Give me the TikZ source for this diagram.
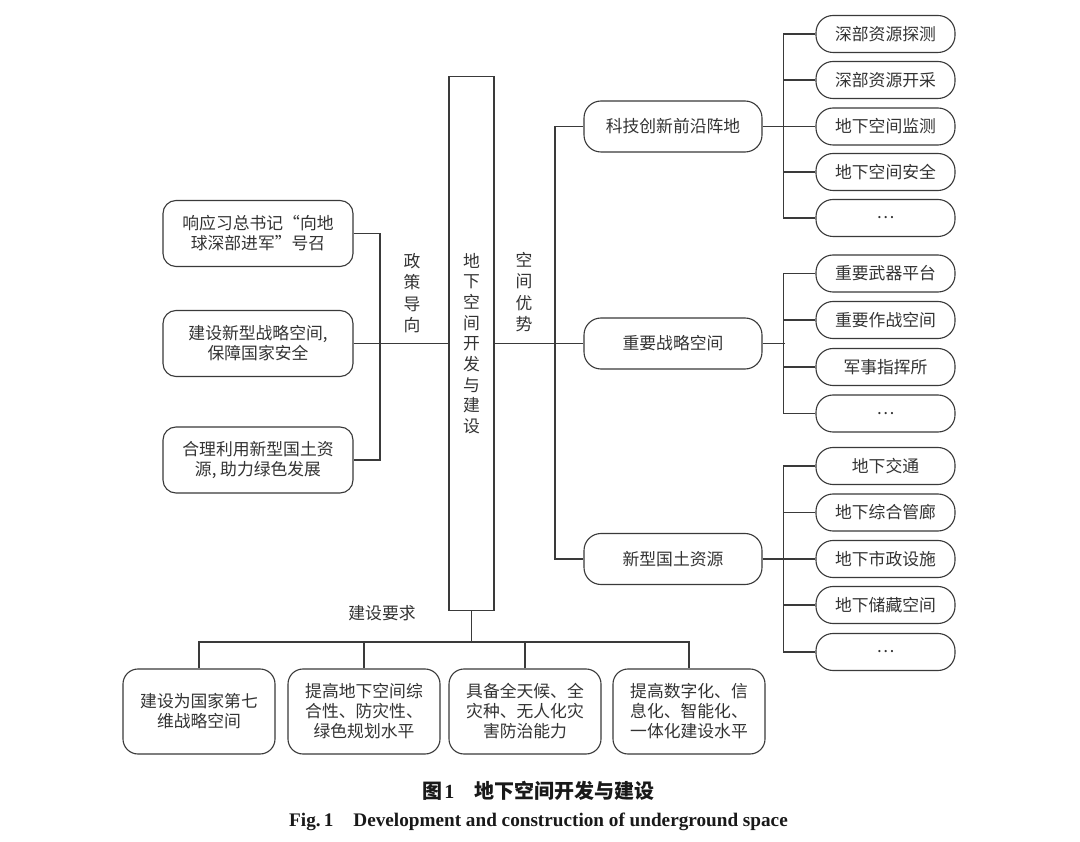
\documentclass[tikz,border=0pt]{standalone}
\usepackage{fontspec}
\setmainfont{Liberation Serif}
\newfontfamily\cjk{Noto Sans CJK SC}
\definecolor{ink}{HTML}{3A3A3A}
\definecolor{txt}{HTML}{333333}
\tikzset{
  ln/.style={draw=ink, line width=1.1pt},
  base/.style={draw=ink, line width=1.1pt, align=center, inner sep=0pt, text=txt,
     font=\fontsize{16.8}{20}\selectfont\cjk},
  lbox/.style={base, rounded corners=13pt, minimum width=190pt, minimum height=66pt},
  mbox/.style={base, rounded corners=17pt, minimum width=178pt, minimum height=51pt},
  leaf/.style={base, rounded corners=17pt, minimum width=139pt, minimum height=37pt},
  bbox/.style={base, rounded corners=15pt, minimum width=152pt, minimum height=85pt},
  cbox/.style={base, minimum width=45pt, minimum height=534pt, font=\fontsize{16.8}{20.7}\selectfont\cjk},
  vlab/.style={align=center, inner sep=0pt, text=txt, font=\fontsize{16.8}{21.5}\selectfont\cjk},
  lab/.style={inner sep=0pt, text=txt, font=\fontsize{16.8}{20}\selectfont\cjk}
}
\begin{document}
\begin{tikzpicture}[x=1pt,y=-1pt]
\useasboundingbox[fill=white] (0,0) rectangle (1080,842);
% centre
\node[cbox] (cen) at (471.5,343.5) {地\\下\\空\\间\\开\\发\\与\\建\\设};
\node[vlab] (zc) at (412,293) {政\\策\\导\\向};
\node[vlab] (ky) at (524,292) {空\\间\\优\\势};
% left
\node[lbox] (L1) at (258,233.5) {响应习总书记“向地\\球深部进军”号召};
\node[lbox] (L2) at (258,343.5) {建设新型战略空间,\\保障国家安全};
\node[lbox] (L3) at (258,460) {合理利用新型国土资\\源, 助力绿色发展};
\coordinate (lbt) at (380,233.5);
\coordinate (lbb) at (380,460);
\draw[ln] (L1.east) -- (lbt) -- (lbb) -- (L3.east);
\draw[ln] (L2.east) -- (cen.west);
% right middle
\node[mbox] (M1) at (673,126.5) {科技创新前沿阵地};
\node[mbox] (M2) at (673,343.5) {重要战略空间};
\node[mbox] (M3) at (673,559) {新型国土资源};
\coordinate (rbt) at (555,126.5);
\coordinate (rbb) at (555,559);
\draw[ln] (M1.west) -- (rbt) -- (rbb) -- (M3.west);
\draw[ln] (cen.east) -- (M2.west);
% leaves group 1
\node[leaf] (A1) at (885.5,34) {深部资源探测};
\node[leaf] (A2) at (885.5,80) {深部资源开采};
\node[leaf] (A3) at (885.5,126.5) {地下空间监测};
\node[leaf] (A4) at (885.5,172) {地下空间安全};
\node[leaf] (A5) at (885.5,218) {…};
\draw[ln] (M1.east) -- (A3.west);
\draw[ln] ([xshift=-32pt]A1.west) -- ([xshift=-32pt]A5.west);
\foreach \n in {A1,A2,A4,A5} \draw[ln] (\n.west) -- ++(-32,0);
% leaves group 2
\node[leaf] (B1) at (885.5,273.5) {重要武器平台};
\node[leaf] (B2) at (885.5,320) {重要作战空间};
\node[leaf] (B3) at (885.5,367) {军事指挥所};
\node[leaf] (B4) at (885.5,413.5) {…};
\draw[ln] (M2.east) -- ++(22,0);
\draw[ln] ([xshift=-32pt]B1.west) -- ([xshift=-32pt]B4.west);
\foreach \n in {B1,B2,B3,B4} \draw[ln] (\n.west) -- ++(-32,0);
% leaves group 3
\node[leaf] (C1) at (885.5,466) {地下交通};
\node[leaf] (C2) at (885.5,512.5) {地下综合管廊};
\node[leaf] (C3) at (885.5,559) {地下市政设施};
\node[leaf] (C4) at (885.5,605) {地下储藏空间};
\node[leaf] (C5) at (885.5,652) {…};
\draw[ln] (M3.east) -- (C3.west);
\draw[ln] ([xshift=-32pt]C1.west) -- ([xshift=-32pt]C5.west);
\foreach \n in {C1,C2,C4,C5} \draw[ln] (\n.west) -- ++(-32,0);
% bottom
\node[lab] (req) at (382,613) {建设要求};
\node[bbox] (D1) at (199,711.5) {建设为国家第七\\维战略空间};
\node[bbox] (D2) at (364,711.5) {提高地下空间综\\合性、防灾性、\\绿色规划水平};
\node[bbox] (D3) at (525,711.5) {具备全天候、全\\灾种、无人化灾\\害防治能力};
\node[bbox] (D4) at (689,711.5) {提高数字化、信\\息化、智能化、\\一体化建设水平};
\coordinate (bj) at (471.5,642);
\draw[ln] (cen.south) -- (bj);
\draw[ln] (D1.north) -- (D1.north |- bj) -- (D4.north |- bj) -- (D4.north);
\draw[ln] (D2.north) -- (D2.north |- bj);
\draw[ln] (D3.north) -- (D3.north |- bj);
% captions
\node[inner sep=0pt, text=black!90] (cap1) at (538.5,791)
  {{\fontsize{20}{22}\selectfont\cjk\bfseries 图}\,{\fontsize{20}{22}\selectfont\bfseries 1}\hspace{20pt}{\fontsize{20}{22}\selectfont\cjk\bfseries 地下空间开发与建设}};
\node[inner sep=0pt, text=black!90, font=\fontsize{19.2}{22}\selectfont\bfseries] (cap2) at (538.5,822)
  {Fig.\,1\hspace{20pt}Development and construction of underground space};
\end{tikzpicture}
\end{document}
